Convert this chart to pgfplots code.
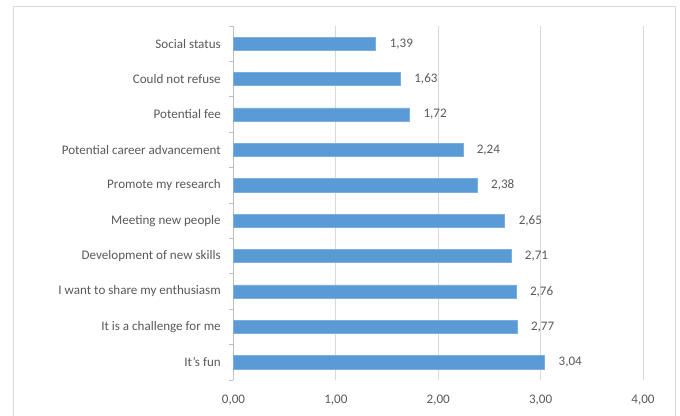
\documentclass[border=0pt]{standalone}
\usepackage{pgfplots}
\pgfplotsset{compat=1.18}
\usepackage{fontspec}
\setmainfont{Carlito}
\definecolor{barblue}{HTML}{5B9BD5}
\definecolor{txt}{HTML}{595959}
\definecolor{gridc}{HTML}{D9D9D9}
\definecolor{axc}{HTML}{BFBFBF}
\begin{document}
\begin{tikzpicture}
\useasboundingbox (0pt,0pt) rectangle (510pt,312pt);
\draw[color=gridc, line width=0.75pt] (10pt,-5pt) -- (10pt,306.75pt) -- (506.25pt,306.75pt) -- (506.25pt,-5pt);
\begin{axis}[
  at={(175.1pt,27pt)}, anchor=south west,
  scale only axis,
  width=307.1pt, height=265.5pt,
  xmin=0, xmax=4,
  ymin=-0.5, ymax=9.5,
  axis lines*=left,
  x axis line style={draw=none},
  y axis line style={draw=axc, line width=0.6pt},
  xtick={0,1,2,3,4},
  xmajorgrids,
  grid style={color=gridc, line width=0.6pt},
  ytick={0,...,9},
  yticklabels={It's fun, It is a challenge for me, I want to share my enthusiasm, Development of new skills, Meeting new people, Promote my research, Potential career advancement, Potential fee, Could not refuse, Social status},
  minor ytick={-0.5,0.5,...,9.5},
  major tick length=0pt,
  minor tick length=3.5pt,
  tick align=outside,
  minor tick style={draw=axc, line width=0.6pt},
  major tick style={draw=none},
  ticklabel style={font=\fontsize{9.8pt}{11pt}\selectfont, text=txt},
  yticklabel style={xshift=-6pt},
  xticklabel style={yshift=-8pt},
  xticklabel={\pgfmathprintnumber[fixed, fixed zerofill, precision=2, use comma]{\tick}},
  /pgf/number format/assume math mode=true,
  clip=false,
]
\addplot[xbar, bar width=10pt, fill=barblue, draw=barblue!80!white,
  nodes near coords={\pgfmathprintnumber[fixed, fixed zerofill, precision=2, use comma, assume math mode=true]{\pgfplotspointmeta}},
  nodes near coords style={font=\fontsize{9.8pt}{11pt}\selectfont, text=txt, anchor=west, xshift=7pt},
  point meta=explicit]
coordinates {
(3.04,0) [3.04]
(2.77,1) [2.77]
(2.76,2) [2.76]
(2.71,3) [2.71]
(2.65,4) [2.65]
(2.38,5) [2.38]
(2.24,6) [2.24]
(1.72,7) [1.72]
(1.63,8) [1.63]
(1.39,9) [1.39]
};
\end{axis}
\end{tikzpicture}
\end{document}
